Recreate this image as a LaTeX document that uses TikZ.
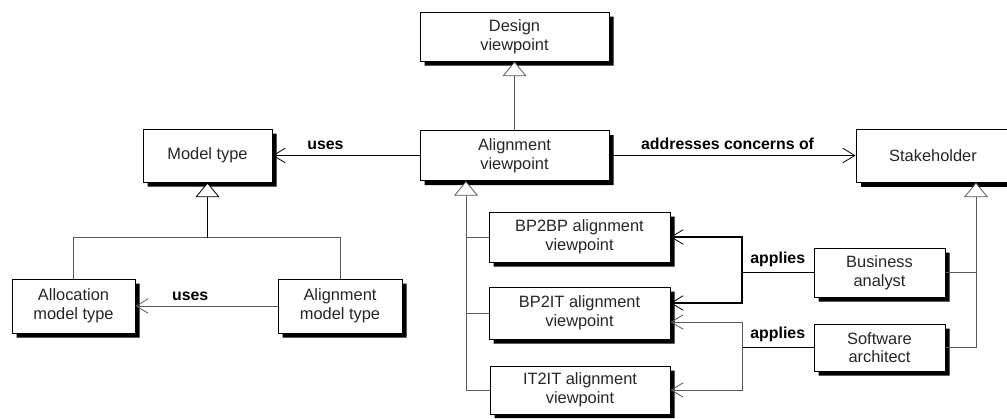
\documentclass[tikz,border=0pt]{standalone}
\usepackage{fontspec}
\setmainfont{Liberation Sans}
\usetikzlibrary{arrows.meta,calc}
\begin{document}
\begin{tikzpicture}[x=0.75pt,y=-0.75pt,
  box/.style={draw=black, line width=0.75pt, fill=white, align=center,
    font=\fontsize{12.3}{14}\selectfont, text=black!85, inner sep=0pt},
  shadow/.style={fill=black},
  lbl/.style={font=\bfseries\fontsize{11.9}{13}\selectfont, inner sep=1pt},
  barb/.tip={Straight Barb[length=9pt,width=11pt,line width=0.6pt]},
  gentip/.tip={Triangle[open,fill=white,length=11pt,width=18pt,line width=0.6pt]},
  assoc/.style={draw=black, line width=1.1pt},
  thinline/.style={draw=black!65, line width=0.7pt},
  trunk/.style={draw=black, line width=1.2pt}]

\useasboundingbox (0,0) rectangle (1007,418);
\fill[white] (0,0) rectangle (1007,418);

% classes
\node[box, minimum width=141.75pt, minimum height=36.75pt] (design) at (514.5,36.5) {Design\\viewpoint};
\node[box, minimum width=141.75pt, minimum height=37.5pt] (align) at (514.5,155.5) {Alignment\\viewpoint};
\node[box, minimum width=96.75pt, minimum height=39.75pt] (model) at (207.5,155.5) {Model type};
\node[box, minimum width=92.25pt, minimum height=40.5pt] (alloc) at (73.5,306) {Allocation\\model type};
\node[box, minimum width=93pt, minimum height=40.5pt] (alignmt) at (340,306) {Alignment\\model type};
\node[box, minimum width=115.5pt, minimum height=39.75pt] (stake) at (933,155.5) {Stakeholder};
\node[box, minimum width=135.75pt, minimum height=37.5pt] (bp2bp) at (579.5,237) {BP2BP alignment\\viewpoint};
\node[box, minimum width=135.75pt, minimum height=39pt] (bp2it) at (579.5,313) {BP2IT alignment\\viewpoint};
\node[box, minimum width=135pt, minimum height=36pt] (it2it) at (580,390) {IT2IT alignment\\viewpoint};
\node[box, minimum width=98.25pt, minimum height=36.75pt] (ba) at (879.5,272.5) {Business\\analyst};
\node[box, minimum width=98.25pt, minimum height=35.25pt] (sa) at (879.5,347.5) {Software\\architect};

% solid black shadows along the right and bottom edges of each box
\fill[shadow] (609,16.5) rectangle (613.5,65.5) (424.5,61) rectangle (613.5,65.5);
\fill[shadow] (609,135) rectangle (613.5,185) (424.5,180.5) rectangle (613.5,185);
\fill[shadow] (272,133.5) rectangle (276.5,186.5) (147.5,182) rectangle (276.5,186.5);
\fill[shadow] (135,283.5) rectangle (139.5,337.5) (16.5,333) rectangle (139.5,337.5);
\fill[shadow] (402,283.5) rectangle (406.5,337.5) (282.5,333) rectangle (406.5,337.5);
\fill[shadow] (860.5,182) rectangle (1007,186.5);
\fill[shadow] (670,216.5) rectangle (674.5,266.5) (493.5,262) rectangle (674.5,266.5);
\fill[shadow] (670,291.5) rectangle (674.5,343.5) (493.5,339) rectangle (674.5,343.5);
\fill[shadow] (670,370.5) rectangle (674.5,418) (494.5,414) rectangle (674.5,418);
\fill[shadow] (945,252.5) rectangle (949.5,301.5) (818.5,297) rectangle (949.5,301.5);
\fill[shadow] (945,328.5) rectangle (949.5,375.5) (818.5,371) rectangle (949.5,375.5);

% helper coordinates for the buses
\coordinate (busx) at (466,0);
\coordinate (sbus) at (976,0);
\coordinate (ax) at (742,0);
\coordinate (junc) at ($(model.south)+(0,55)$);

% generalizations
\draw[thinline, -gentip] (align.north) -- (design.south);
\draw[thinline] (alloc.north) |- (junc) -| (alignmt.north);
\draw[trunk, -gentip] (junc) -- (model.south);
\draw[thinline, -gentip] (it2it.west) -| (busx |- align.south);
\draw[thinline] (bp2bp.west) -- (bp2bp.west -| busx);
\draw[thinline] (bp2it.west) -- (bp2it.west -| busx);
\draw[thinline, -gentip] (sa.east) -| (sbus |- stake.south);
\draw[thinline] (ba.east) -- (ba.east -| sbus);

% associations
\draw[assoc, -barb] (align.west) -- (model.east) node[pos=0.64, above=3pt, lbl] {uses};
\draw[thinline, -barb] (alignmt.west) -- (alloc.east) node[pos=0.615, above=3pt, lbl] {uses};
\draw[assoc, -barb] (align.east) -- (stake.west) node[pos=0.48, above=3pt, lbl] {addresses concerns of};

\draw[assoc] (ba.west) -- (ba.west -| ax) node[midway, above=3pt, lbl] {applies};
\draw[assoc, -barb] (ba.west -| ax) |- (bp2bp.east);
\draw[assoc, -barb] (ba.west -| ax) |- ($(bp2it.east)+(0,-10)$);

\draw[assoc] (sa.west) -- (sa.west -| ax) node[midway, above=3pt, lbl] {applies};
\draw[thinline, -barb] (sa.west -| ax) |- ($(bp2it.east)+(0,9)$);
\draw[thinline, -barb] (sa.west -| ax) |- (it2it.east);
\end{tikzpicture}
\end{document}
